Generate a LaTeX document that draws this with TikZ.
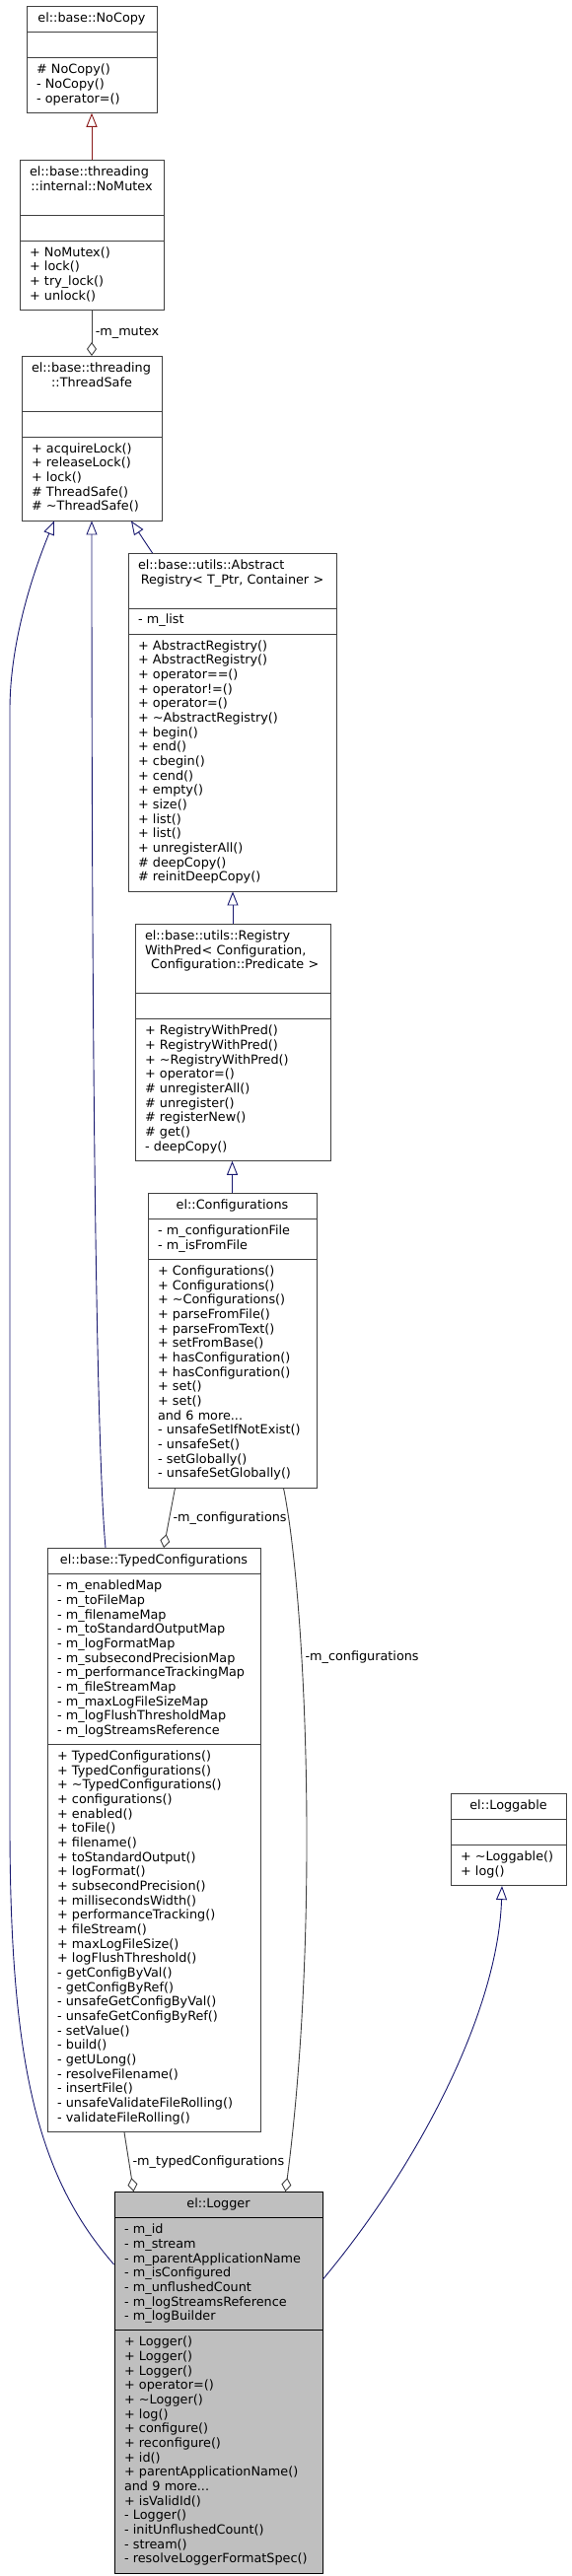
\documentclass[tikz,border=0pt]{standalone}
\usepackage{fontspec}
\setmainfont{DejaVu Sans}
\usetikzlibrary{shapes.multipart,arrows.meta}
\definecolor{inhcol}{HTML}{191970}
\definecolor{privcol}{HTML}{8B1A1A}
\definecolor{usecol}{HTML}{404040}
\newcommand{\dxfont}{\fontsize{12.8}{14.67}\selectfont}
\newcommand{\ttl}[1]{\hbox to\hsize{\hss#1\hss}}

\begin{document}
\begin{tikzpicture}[x=1pt,y=-1pt,
  cls/.style={rectangle split,rectangle split parts=3,draw=black!75,line width=0.9pt,
    font=\dxfont,inner xsep=10pt,inner ysep=5.3pt,anchor=north,
    execute at begin node={\rightskip=0pt plus 1fil minus 20pt\strut},
    execute at end node={\strut}},
  inh/.style={draw=inhcol,line width=0.9pt,-{Triangle[open,length=14pt,width=11pt]}},
  priv/.style={inh,draw=privcol},
  use/.style={draw=usecol,line width=0.9pt,-{Diamond[open,length=14pt,width=10pt]}},
  lbl/.style={font=\dxfont,right}]
\useasboundingbox (0,0) rectangle (580,2613);

\node[cls,text width=112pt] (nocopy) at (93,6) {\ttl{el::base::NoCopy}
  \nodepart{two}
  \nodepart{three}\# NoCopy()\\- NoCopy()\\- operator=()};

\node[cls,text width=126pt] (nomutex) at (93,162) {el::base::threading\\\ttl{::internal::NoMutex}
  \nodepart{two}
  \nodepart{three}+ NoMutex()\\+ lock()\\+ try\_lock()\\+ unlock()};

\node[cls,text width=122pt] (threadsafe) at (93,361) {el::base::threading\\\ttl{::ThreadSafe}
  \nodepart{two}
  \nodepart{three}+ acquireLock()\\+ releaseLock()\\+ lock()\\\# ThreadSafe()\\\# \textasciitilde ThreadSafe()};

\node[cls,text width=191pt] (abstract) at (235.5,561) {el::base::utils::Abstract\\\ttl{Registry< T\_Ptr, Container >}
  \nodepart{two}- m\_list
  \nodepart{three}+ AbstractRegistry()\\+ AbstractRegistry()\\+ operator==()\\+ operator!=()\\+ operator=()\\+ \textasciitilde AbstractRegistry()\\+ begin()\\+ end()\\+ cbegin()\\+ cend()\\+ empty()\\+ size()\\+ list()\\+ list()\\+ unregisterAll()\\\# deepCopy()\\\# reinitDeepCopy()};

\node[cls,text width=178pt] (regpred) at (236,937) {el::base::utils::Registry\\WithPred< Configuration,\\\ttl{\ Configuration::Predicate >}
  \nodepart{two}
  \nodepart{three}+ RegistryWithPred()\\+ RegistryWithPred()\\+ \textasciitilde RegistryWithPred()\\+ operator=()\\\# unregisterAll()\\\# unregister()\\\# registerNew()\\\# get()\\- deepCopy()};

\node[cls,text width=151pt] (configs) at (235.5,1210) {\ttl{el::Configurations}
  \nodepart{two}- m\_configurationFile\\- m\_isFromFile
  \nodepart{three}+ Configurations()\\+ Configurations()\\+ \textasciitilde Configurations()\\+ parseFromFile()\\+ parseFromText()\\+ setFromBase()\\+ hasConfiguration()\\+ hasConfiguration()\\+ set()\\+ set()\\and 6 more...\\- unsafeSetIfNotExist()\\- unsafeSet()\\- setGlobally()\\- unsafeSetGlobally()};

\node[cls,text width=196pt] (typed) at (156,1570) {\ttl{el::base::TypedConfigurations}
  \nodepart{two}- m\_enabledMap\\- m\_toFileMap\\- m\_filenameMap\\- m\_toStandardOutputMap\\- m\_logFormatMap\\- m\_subsecondPrecisionMap\\- m\_performanceTrackingMap\\- m\_fileStreamMap\\- m\_maxLogFileSizeMap\\- m\_logFlushThresholdMap\\- m\_logStreamsReference
  \nodepart{three}+ TypedConfigurations()\\+ TypedConfigurations()\\+ \textasciitilde TypedConfigurations()\\+ configurations()\\+ enabled()\\+ toFile()\\+ filename()\\+ toStandardOutput()\\+ logFormat()\\+ subsecondPrecision()\\+ millisecondsWidth()\\+ performanceTracking()\\+ fileStream()\\+ maxLogFileSize()\\+ logFlushThreshold()\\- getConfigByVal()\\- getConfigByRef()\\- unsafeGetConfigByVal()\\- unsafeGetConfigByRef()\\- setValue()\\- build()\\- getULong()\\- resolveFilename()\\- insertFile()\\- unsafeValidateFileRolling()\\- validateFileRolling()};

\node[cls,text width=97pt] (loggable) at (515.5,1819) {\ttl{el::Loggable}
  \nodepart{two}
  \nodepart{three}+ \textasciitilde Loggable()\\+ log()};

\node[cls,text width=191pt,draw=black,fill=black!25] (logger) at (221.5,2223) {\ttl{el::Logger}
  \nodepart{two}- m\_id\\- m\_stream\\- m\_parentApplicationName\\- m\_isConfigured\\- m\_unflushedCount\\- m\_logStreamsReference\\- m\_logBuilder
  \nodepart{three}+ Logger()\\+ Logger()\\+ Logger()\\+ operator=()\\+ \textasciitilde Logger()\\+ log()\\+ configure()\\+ reconfigure()\\+ id()\\+ parentApplicationName()\\and 9 more...\\+ isValidId()\\- Logger()\\- initUnflushedCount()\\- stream()\\- resolveLoggerFormatSpec()};

\draw[priv] (nomutex.north) -- (nocopy.south);
\draw[use] (nomutex.south) -- node[lbl] {-m\_mutex} (threadsafe.north);
\draw[inh] ([xshift=25pt]abstract.north west) -- ([xshift=40pt]threadsafe.south);
\draw[inh] ([xshift=-49pt]typed.north) .. controls (98,1470) and (93,1100) .. (threadsafe.south);
\draw[inh] ([yshift=-74pt]logger.north west) .. controls (40,2210) and (10,2100) .. (10,1850)
  -- (10,720) .. controls (10,640) and (42,560) .. ([xshift=-38pt]threadsafe.south);
\draw[inh] (regpred.north) -- (regpred.north |- abstract.south);
\draw[inh] (configs.north) -- (configs.north |- regpred.south);
\draw[use] ([xshift=-58pt]configs.south) -- node[lbl] {-m\_configurations} ([xshift=10pt]typed.north);
\draw[use] ([xshift=52pt]configs.south) .. controls (310,1620) and (325,1950) .. node[lbl,pos=0.33] {-m\_configurations} ([xshift=68pt]logger.north);
\draw[use] ([xshift=-30pt]typed.south) -- node[lbl] {-m\_typedConfigurations} ([xshift=-86pt]logger.north);
\draw[inh] ([yshift=-89pt]logger.north east) .. controls (425,2195) and (505,2040) .. ([xshift=-6.5pt]loggable.south);
\end{tikzpicture}
\end{document}
